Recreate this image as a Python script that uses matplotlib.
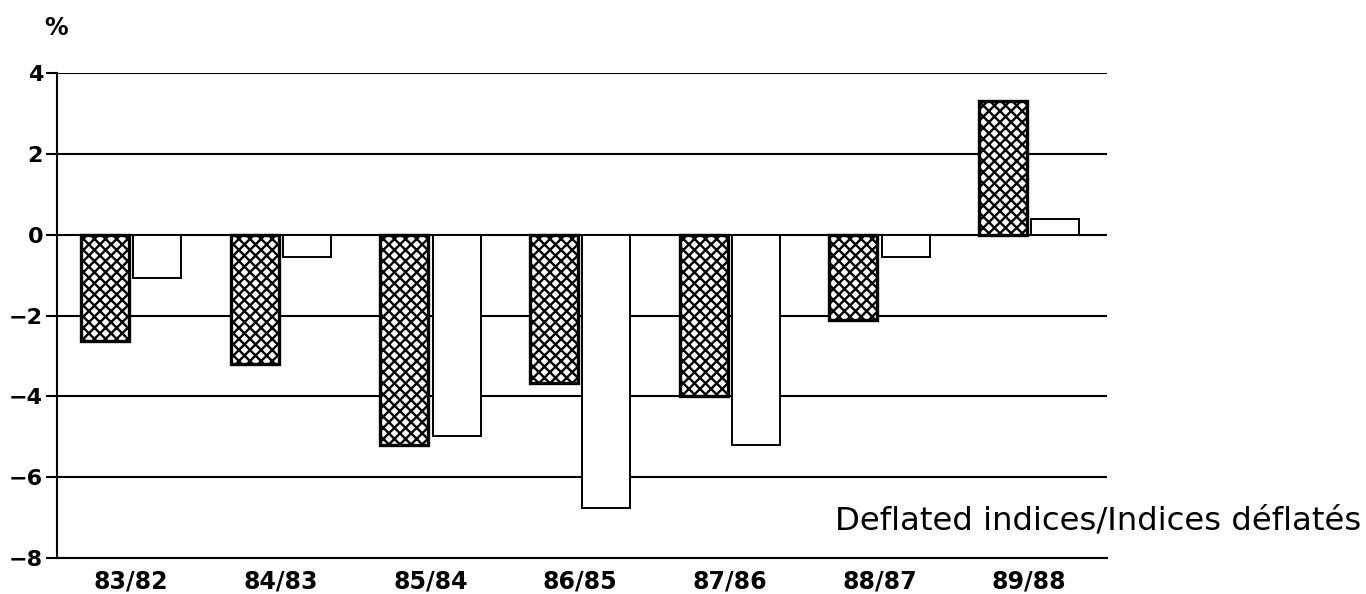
import matplotlib

matplotlib.use("Agg")
import matplotlib.pyplot as plt
import numpy as np

# values (% change, deflated indices)
periods = ["83/82", "84/83", "85/84", "86/85", "87/86", "88/87", "89/88"]
hatched_values = [-2.63, -3.21, -5.2, -3.66, -3.99, -2.12, 3.31]
plain_values = [-1.07, -0.55, -4.98, -6.77, -5.21, -0.55, 0.4]
y_ticks = [-8, -6, -4, -2, 0, 2, 4]

plt.rcParams["hatch.linewidth"] = 1.7
plt.rcParams["axes.unicode_minus"] = True

fig = plt.figure(figsize=(13.66, 5.94), dpi=100)
ax = fig.add_axes([57 / 1366, 1 - 558 / 594, 1050 / 1366, 485 / 594])

x = np.arange(len(periods))
offset = 0.175
width = 0.32

ax.bar(
    x - offset,
    hatched_values,
    width=width,
    facecolor="white",
    edgecolor="black",
    linewidth=2.4,
    hatch="xxx",
    zorder=3,
)
ax.bar(
    x + offset,
    plain_values,
    width=width,
    facecolor="white",
    edgecolor="black",
    linewidth=1.4,
    zorder=3,
)

ax.set_xlim(-0.495, 6.52)
ax.set_ylim(-8, 4)
ax.set_yticks(y_ticks)
ax.set_xticks(x)
ax.set_xticklabels(periods, fontsize=17, fontweight="bold")

for val in y_ticks:
    ax.axhline(val, color="black", linewidth=1.5, zorder=1)

for side in ["top", "right"]:
    ax.spines[side].set_visible(False)
ax.spines["left"].set_linewidth(1.5)
ax.spines["bottom"].set_linewidth(1.5)

ax.tick_params(axis="x", length=0, pad=8)
ax.tick_params(axis="y", length=8, width=1.5, pad=2, labelsize=16)
for label in ax.get_yticklabels():
    label.set_fontweight("bold")

fig.text(56 / 1366, 1 - 28 / 594, "%", fontsize=17, fontweight="bold",
         ha="center", va="center")
fig.text(835 / 1366, 1 - 521 / 594, "Deflated indices/Indices déflatés",
         fontsize=23.3, ha="left", va="center")

fig.savefig("out.png", dpi=100, facecolor="white")
plt.close(fig)
